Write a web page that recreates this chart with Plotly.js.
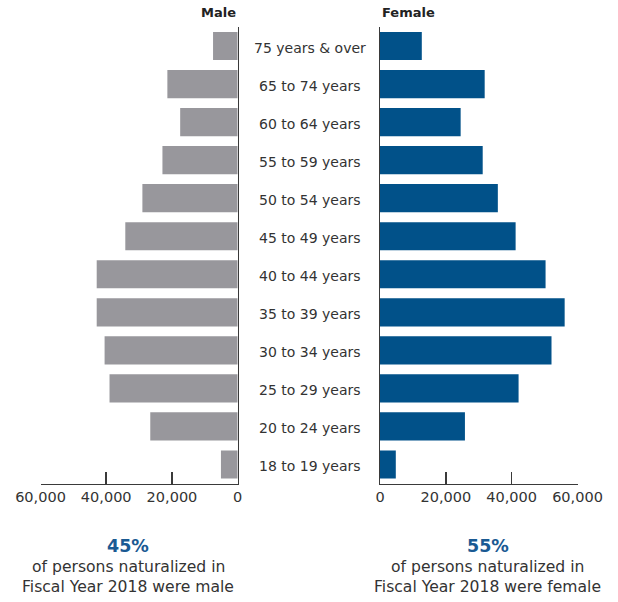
<!DOCTYPE html>
<html>
<head>
<meta charset="utf-8">
<script src="https://cdn.plot.ly/plotly-3.0.1.min.js"></script>
<style>html,body{margin:0;padding:0;background:#fff;}#chart{width:618px;height:602px;}</style>
</head>
<body>
<div id="chart"></div>
<script>
var ageGroups = ["75 years & over","65 to 74 years","60 to 64 years","55 to 59 years","50 to 54 years","45 to 49 years","40 to 44 years","35 to 39 years","30 to 34 years","25 to 29 years","20 to 24 years","18 to 19 years"];
var maleValues = [7500, 21400, 17500, 22900, 29000, 34200, 42900, 42900, 40500, 39000, 26600, 5100];
var femaleValues = [12700, 31800, 24500, 31200, 35800, 41200, 50300, 56100, 52100, 42100, 25800, 4800];
var maleShare = "45%";
var femaleShare = "55%";
var maleCaption = ["of persons naturalized in", "Fiscal Year 2018 were male"];
var femaleCaption = ["of persons naturalized in", "Fiscal Year 2018 were female"];

var W = 618, H = 602;
var FONT = "DejaVu Sans";
var yDom = [1 - 483.5 / H, 1 - 27 / H];

var traces = [
  {type: 'bar', orientation: 'h', y: ageGroups, x: maleValues, xaxis: 'x', yaxis: 'y',
   marker: {color: '#98979c'}, hoverinfo: 'x+y', showlegend: false},
  {type: 'bar', orientation: 'h', y: ageGroups, x: femaleValues, xaxis: 'x2', yaxis: 'y2',
   marker: {color: '#015189'}, hoverinfo: 'x+y', showlegend: false}
];

var xCommon = {
  showline: true, linecolor: '#3a3a3a', linewidth: 1.5,
  ticks: 'inside', ticklen: 12, tickwidth: 1.5, tickcolor: '#3a3a3a',
  tickvals: [0, 20000, 40000, 60000], tickformat: ',d',
  showgrid: false, zeroline: false,
  tickfont: {family: FONT, size: 14.5, color: '#333'}, fixedrange: true
};
var yCommon = {
  type: 'category', categoryarray: ageGroups, categoryorder: 'array',
  range: [ageGroups.length - 0.5, -0.5], domain: yDom,
  showline: true, linecolor: '#3a3a3a', linewidth: 1.5,
  showticklabels: false, ticks: '', showgrid: false, zeroline: false, fixedrange: true
};

var annotations = [];
ageGroups.forEach(function (g) {
  annotations.push({xref: 'paper', yref: 'y', x: 309.5 / W, y: g, text: g, showarrow: false,
    xanchor: 'center', yanchor: 'middle', yshift: -2,
    font: {family: FONT, size: 14, color: '#333'}});
});
annotations.push({xref: 'paper', yref: 'paper', x: 238 / W, y: 1 - 12 / H, text: '<b>Male</b>',
  showarrow: false, xanchor: 'right', yanchor: 'middle', font: {family: FONT, size: 13, color: '#222'}});
annotations.push({xref: 'paper', yref: 'paper', x: 380 / W, y: 1 - 12 / H, text: '<b>Female</b>',
  showarrow: false, xanchor: 'left', yanchor: 'middle', font: {family: FONT, size: 13, color: '#222'}});

function caption(cx, share, lines) {
  annotations.push({xref: 'paper', yref: 'paper', x: cx / W, y: 1 - 546 / H, text: '<b>' + share + '</b>',
    showarrow: false, xanchor: 'center', yanchor: 'middle', font: {family: FONT, size: 17.5, color: '#1a5a93'}});
  annotations.push({xref: 'paper', yref: 'paper', x: cx / W, y: 1 - 567 / H, text: lines[0],
    showarrow: false, xanchor: 'center', yanchor: 'middle', font: {family: FONT, size: 15.6, color: '#333'}});
  annotations.push({xref: 'paper', yref: 'paper', x: cx / W, y: 1 - 587 / H, text: lines[1],
    showarrow: false, xanchor: 'center', yanchor: 'middle', font: {family: FONT, size: 15.6, color: '#333'}});
}
caption(128, maleShare, maleCaption);
caption(487.5, femaleShare, femaleCaption);

var layout = {
  width: W, height: H,
  margin: {l: 0, r: 0, t: 0, b: 0},
  paper_bgcolor: '#fff', plot_bgcolor: '#fff',
  bargap: 0.26, showlegend: false,
  xaxis: Object.assign({}, xCommon, {domain: [40.5 / W, 237.7 / W], range: [60000, 0], anchor: 'y'}),
  xaxis2: Object.assign({}, xCommon, {domain: [380 / W, 577.5 / W], range: [0, 60000], anchor: 'y2'}),
  yaxis: Object.assign({}, yCommon, {anchor: 'x', side: 'right'}),
  yaxis2: Object.assign({}, yCommon, {anchor: 'x2', side: 'left'}),
  annotations: annotations
};

Plotly.newPlot('chart', traces, layout, {displayModeBar: false, staticPlot: true});
</script>
</body>
</html>
